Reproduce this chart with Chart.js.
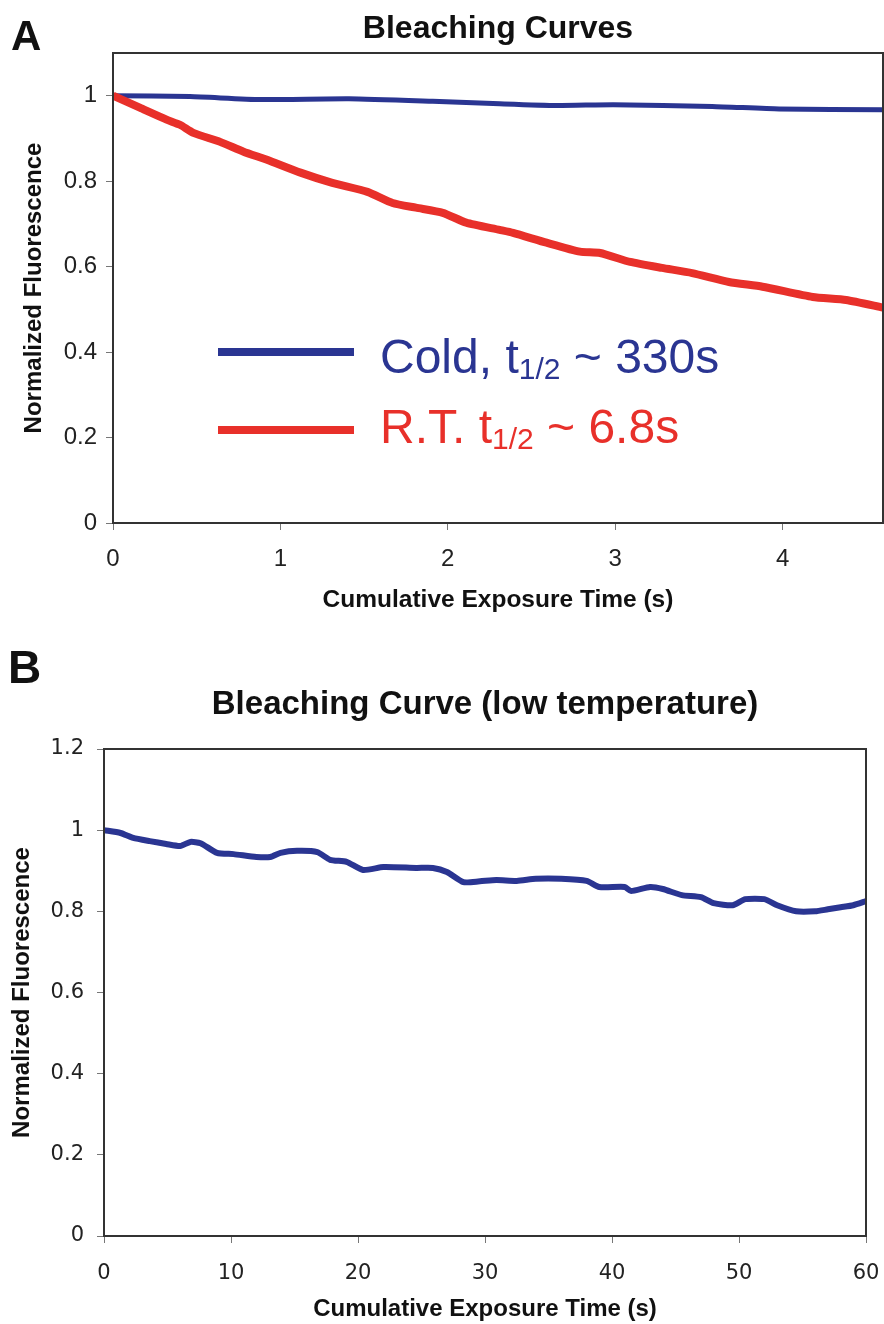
<!DOCTYPE html>
<html>
<head>
<meta charset="utf-8">
<script src="https://cdn.jsdelivr.net/npm/chart.js@4.4.1/dist/chart.umd.min.js"></script>
<style>
  body { margin: 0; background: #fff; }
  canvas { display: block; }
</style>
</head>
<body>
<canvas id="chartA" width="884" height="620"></canvas>
<canvas id="chartB" width="884" height="704"></canvas>
<script>
// Panel A: bleaching curves, cold vs room temperature
const coldTimes = [0, 0.46, 0.88, 1.41, 1.91, 2.31, 2.65, 2.99, 3.58, 3.98, 4.6];
const coldValues = [1.0, 0.998, 0.991, 0.993, 0.987, 0.981, 0.977, 0.979, 0.975, 0.969, 0.967];

const rtTimes = [0, 0.16, 0.32, 0.40, 0.48, 0.64, 0.78, 0.92, 1.12, 1.31, 1.52, 1.67, 1.81, 1.97,
  2.11, 2.31, 2.39, 2.59, 2.79, 2.91, 3.09, 3.28, 3.46, 3.68, 3.88, 4.18, 4.38, 4.6];
const rtValues = [1.0, 0.972, 0.944, 0.932, 0.913, 0.892, 0.869, 0.85, 0.82, 0.796, 0.775, 0.749, 0.738, 0.726,
  0.703, 0.686, 0.679, 0.656, 0.635, 0.632, 0.611, 0.597, 0.585, 0.564, 0.553, 0.529, 0.522, 0.504];

const legendMain = ['Cold, t', 'R.T. t'];
const legendSub = '1/2';
const legendTail = [' ~ 330s', ' ~ 6.8s'];

// Panel B: low temperature, longer exposure
const lowTimes = [0, 1.3, 2.3, 3.6, 4.9, 6.0, 6.8, 7.6, 8.9, 10.2, 12.0, 13.1, 13.9, 15.2, 16.8, 17.8,
  19.1, 20.4, 22.0, 24.6, 25.9, 27.0, 28.3, 29.6, 30.9, 32.5, 34, 36, 38, 39, 41, 41.5, 43, 44,
  45.5, 47, 48, 49.5, 50.5, 52, 53, 54.5, 56, 57, 58, 59, 60];
const lowValues = [1.0, 0.993, 0.981, 0.973, 0.966, 0.961, 0.971, 0.968, 0.944, 0.941, 0.934, 0.934, 0.944, 0.949, 0.946, 0.927,
  0.922, 0.902, 0.909, 0.907, 0.907, 0.897, 0.872, 0.874, 0.877, 0.875, 0.88, 0.88, 0.875, 0.86, 0.86, 0.85, 0.86, 0.855,
  0.84, 0.835, 0.82, 0.815, 0.83, 0.83, 0.815, 0.80, 0.80, 0.805, 0.81, 0.815, 0.825];

const BLUE = '#2a3592';
const RED = '#e8302a';
const ARIAL = '"Liberation Sans", Arial, sans-serif';
const VERDANA = '"DejaVu Sans", Verdana, sans-serif';

const zip = (xs, ys) => xs.map((x, i) => ({ x: x, y: ys[i] }));
const fmt = v => String(Math.round(v * 10) / 10);

// box around the plot area
const framePlugin = {
  id: 'frame',
  afterDatasetsDraw(chart) {
    const { ctx, chartArea: a } = chart;
    ctx.save();
    ctx.strokeStyle = '#333';
    ctx.lineWidth = 2;
    ctx.strokeRect(a.left, a.top, a.right - a.left, a.bottom - a.top);
    ctx.restore();
  }
};

// big "A" / "B" letter in the corner
const panelLabelPlugin = {
  id: 'panelLabel',
  afterDraw(chart, args, opts) {
    const ctx = chart.ctx;
    ctx.save();
    ctx.font = 'bold ' + opts.size + 'px ' + ARIAL;
    ctx.fillStyle = '#111';
    ctx.textBaseline = 'alphabetic';
    ctx.fillText(opts.text, opts.x, opts.y);
    ctx.restore();
  }
};

// legend drawn inside the plot, with t subscript 1/2
const inlineLegendPlugin = {
  id: 'inlineLegend',
  afterDatasetsDraw(chart, args, opts) {
    if (!opts.rows) return;
    const { ctx, chartArea: a } = chart;
    const h = a.bottom - a.top;
    ctx.save();
    opts.rows.forEach(row => {
      const y = a.top + h * row.lineFrac;
      ctx.strokeStyle = row.color;
      ctx.lineWidth = 8;
      ctx.beginPath();
      ctx.moveTo(a.left + 105, y);
      ctx.lineTo(a.left + 241, y);
      ctx.stroke();

      const base = a.top + h * row.textFrac;
      let x = a.left + 267;
      ctx.fillStyle = row.color;
      ctx.textBaseline = 'alphabetic';
      ctx.font = '48px ' + ARIAL;
      ctx.fillText(row.main, x, base);
      x += ctx.measureText(row.main).width;
      ctx.font = '30px ' + ARIAL;
      ctx.fillText(legendSub, x, base + 6);
      x += ctx.measureText(legendSub).width;
      ctx.font = '48px ' + ARIAL;
      ctx.fillText(row.tail, x, base);
    });
    ctx.restore();
  }
};

Chart.register(framePlugin, panelLabelPlugin, inlineLegendPlugin);

function axisCommon(fontFamily, tickSize, tickPad) {
  return {
    grid: { drawOnChartArea: false, drawTicks: true, tickLength: 7, color: '#777' },
    border: { display: true, color: '#333', width: 2 },
    ticks: { color: '#222', font: { family: fontFamily, size: tickSize }, padding: tickPad, includeBounds: false, callback: fmt }
  };
}

// ---- Panel A ----
const axA_x = axisCommon(ARIAL, 24, 15);
const axA_y = axisCommon(ARIAL, 24, 9);
new Chart(document.getElementById('chartA'), {
  type: 'line',
  data: {
    datasets: [
      { label: 'R.T.', data: zip(rtTimes, rtValues), borderColor: RED, borderWidth: 8, pointRadius: 0, tension: 0.2 },
      { label: 'Cold', data: zip(coldTimes, coldValues), borderColor: BLUE, borderWidth: 5, pointRadius: 0, tension: 0.2 }
    ]
  },
  options: {
    responsive: false,
    animation: false,
    layout: { padding: { left: 0, right: 1, top: 0, bottom: 0 } },
    plugins: {
      legend: { display: false },
      tooltip: { enabled: false },
      title: {
        display: true, text: 'Bleaching Curves', fullSize: false, color: '#111',
        font: { family: ARIAL, size: 32, weight: 'bold', lineHeight: 1.2 },
        padding: { top: 10, bottom: 4.6 }
      },
      panelLabel: { text: 'A', x: 11, y: 50, size: 42 },
      inlineLegend: {
        rows: [
          { main: legendMain[0], tail: legendTail[0], color: BLUE, lineFrac: 0.636, textFrac: 0.681 },
          { main: legendMain[1], tail: legendTail[1], color: RED, lineFrac: 0.802, textFrac: 0.830 }
        ]
      }
    },
    scales: {
      x: Object.assign(axA_x, {
        type: 'linear', min: 0, max: 4.6,
        ticks: Object.assign(axA_x.ticks, { stepSize: 1 }),
        title: { display: true, text: 'Cumulative Exposure Time (s)', color: '#111',
          font: { family: ARIAL, size: 24.5, weight: 'bold', lineHeight: 1.2 }, padding: { top: 0, bottom: 5 } },
        afterFit: s => { s.height = 97; s.paddingLeft = 0; s.paddingRight = 0; }
      }),
      y: Object.assign(axA_y, {
        min: 0, max: 1.1,
        ticks: Object.assign(axA_y.ticks, { stepSize: 0.2 }),
        title: { display: true, text: 'Normalized Fluorescence', color: '#111',
          font: { family: ARIAL, size: 24, weight: 'bold', lineHeight: 1.2 }, padding: { top: 20, bottom: 0 } },
        afterFit: s => { s.width = 113; }
      })
    }
  }
});

// ---- Panel B ----
const axB_x = axisCommon(VERDANA, 21, 18);
const axB_y = axisCommon(VERDANA, 21, 13);
new Chart(document.getElementById('chartB'), {
  type: 'line',
  data: {
    datasets: [
      { label: 'Low temperature', data: zip(lowTimes, lowValues), borderColor: BLUE, borderWidth: 6, pointRadius: 0, tension: 0.2 }
    ]
  },
  options: {
    responsive: false,
    animation: false,
    layout: { padding: { left: 0, right: 18, top: 0, bottom: 0 } },
    plugins: {
      legend: { display: false },
      tooltip: { enabled: false },
      title: {
        display: true, text: 'Bleaching Curve (low temperature)', fullSize: false, color: '#111',
        font: { family: ARIAL, size: 33, weight: 'bold', lineHeight: 1.2 },
        padding: { top: 65, bottom: 24.4 }
      },
      panelLabel: { text: 'B', x: 8, y: 63, size: 46 }
    },
    scales: {
      x: Object.assign(axB_x, {
        type: 'linear', min: 0, max: 60,
        ticks: Object.assign(axB_x.ticks, { stepSize: 10 }),
        title: { display: true, text: 'Cumulative Exposure Time (s)', color: '#111',
          font: { family: ARIAL, size: 24, weight: 'bold', lineHeight: 1.2 }, padding: { top: 0, bottom: 0 } },
        afterFit: s => { s.height = 88; s.paddingLeft = 0; s.paddingRight = 0; }
      }),
      y: Object.assign(axB_y, {
        min: 0, max: 1.2,
        ticks: Object.assign(axB_y.ticks, { stepSize: 0.2 }),
        title: { display: true, text: 'Normalized Fluorescence', color: '#111',
          font: { family: ARIAL, size: 24, weight: 'bold', lineHeight: 1.2 }, padding: { top: 8, bottom: 0 } },
        afterFit: s => { s.width = 104; }
      })
    }
  }
});
</script>
</body>
</html>
